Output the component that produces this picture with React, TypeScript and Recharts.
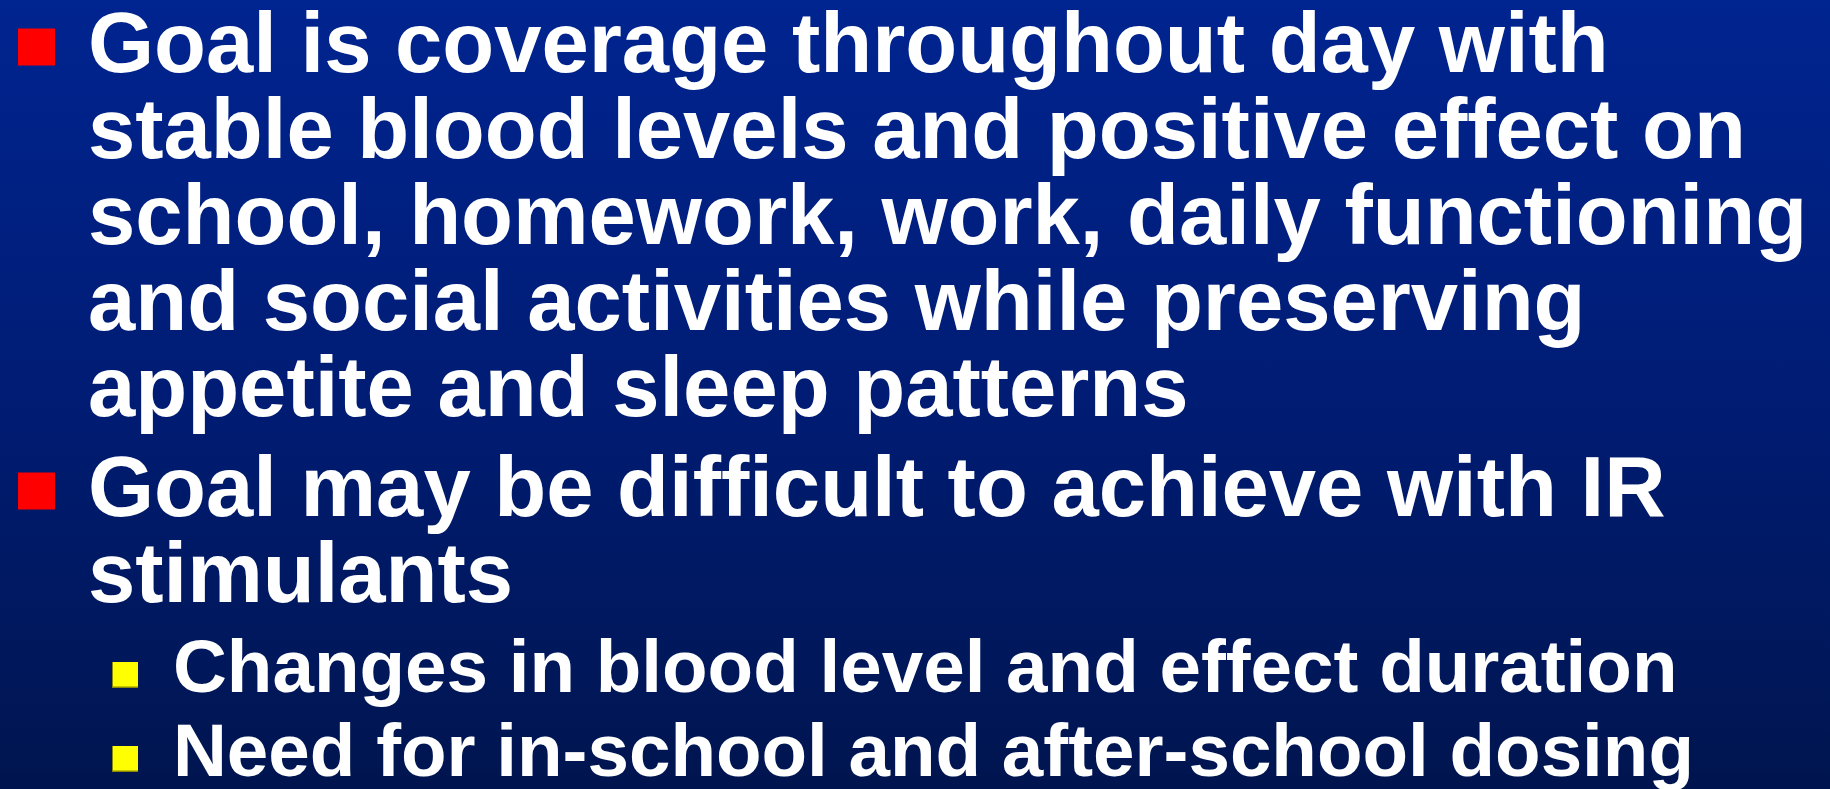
import { ScatterChart, Scatter, XAxis, YAxis } from "recharts"

// slide text, one array per bullet
const bulletOne = [
  "Goal is coverage throughout day with",
  "stable blood levels and positive effect on",
  "school, homework, work, daily functioning",
  "and social activities while preserving",
  "appetite and sleep patterns",
]
const bulletTwo = ["Goal may be difficult to achieve with IR", "stimulants"]
const subBullets = ["Changes in blood level and effect duration", "Need for in-school and after-school dosing"]

const W = 1830
const H = 789
const LINE = 86
const SUB_LINE = 84
const PARA_GAP = 14
const SUB_GAP = 4

interface Row {
  x: number
  y: number
  text: string
  level: number
  first: boolean
}

// turn the text arrays into rows (baseline positions)
function layout(): Row[] {
  const rows: Row[] = []
  let y = 72
  bulletOne.forEach((text, i) => {
    rows.push({ x: 88, y, text, level: 0, first: i === 0 })
    y += LINE
  })
  y += PARA_GAP
  bulletTwo.forEach((text, i) => {
    rows.push({ x: 88, y, text, level: 0, first: i === 0 })
    y += LINE
  })
  y += SUB_GAP
  subBullets.forEach((text) => {
    rows.push({ x: 173, y, text, level: 1, first: true })
    y += SUB_LINE
  })
  return rows
}

const rows = layout()

const LineShape = (props: any) => {
  const { cx, cy, payload } = props
  const lvl0 = payload.level === 0
  const size = lvl0 ? 37 : 26
  const bx = lvl0 ? 18 : 112
  const by = cy - (lvl0 ? 25 : 17) - size / 2
  return (
    <g>
      {payload.first &&
        (lvl0 ? (
          <rect x={bx} y={by} width={size} height={size} fill="#ff0000" />
        ) : (
          <g>
            <rect x={bx} y={by} width={size} height={size} fill="#8a8a00" />
            <rect x={bx + 1} y={by} width={size - 1} height={size - 1.5} fill="#ffff00" />
          </g>
        ))}
      <text
        x={cx}
        y={cy}
        fill="#ffffff"
        fontFamily="'Liberation Sans', Arial, sans-serif"
        fontWeight="bold"
        fontSize={lvl0 ? 85 : 74.6}
      >
        {payload.text}
      </text>
    </g>
  )
}

export default function App() {
  return (
    <div
      style={{
        position: "fixed",
        left: 0,
        top: 0,
        width: W,
        height: H,
        background: "linear-gradient(to bottom, #002490 0%, #001c74 50%, #00154f 100%)",
      }}
    >
      <ScatterChart width={W} height={H} margin={{ top: 0, right: 0, bottom: 0, left: 0 }}>
        <XAxis type="number" dataKey="x" domain={[0, W]} hide />
        <YAxis type="number" dataKey="y" domain={[0, H]} reversed hide />
        <Scatter data={rows} shape={<LineShape />} isAnimationActive={false} />
      </ScatterChart>
    </div>
  )
}
